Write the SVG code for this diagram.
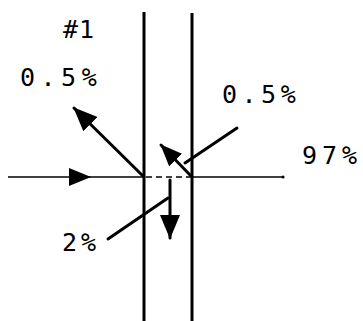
<svg xmlns="http://www.w3.org/2000/svg" width="363" height="321" viewBox="0 0 363 321">
<style>
.t{font-family:"DejaVu Sans Mono","Liberation Mono",monospace;font-size:25px;fill:#000}
.thin{stroke:#000;stroke-width:1.6;fill:none}
.thick{stroke:#000;stroke-width:3;fill:none;stroke-linecap:round}
.wall{stroke:#000;stroke-width:3;fill:none}
</style>
<defs>
<marker id="ah" viewBox="0 0 24 20" refX="23" refY="10" markerWidth="24" markerHeight="20" markerUnits="userSpaceOnUse" orient="auto"><path d="M0,0 L24,10 L0,20 z" fill="#000"/></marker>
<marker id="ahs" viewBox="0 0 22 18" refX="21" refY="9" markerWidth="22" markerHeight="18" markerUnits="userSpaceOnUse" orient="auto"><path d="M0,0 L22,9 L0,18 z" fill="#000"/></marker>
</defs>
<rect width="363" height="321" fill="#fff"/>
<g id="walls">
<line class="wall" x1="144" y1="12" x2="144" y2="321"/>
<line class="wall" x1="192" y1="13" x2="192" y2="321"/>
</g>
<g id="connectors">
<line class="thin" x1="8" y1="177" x2="90" y2="177" marker-end="url(#ahs)"/>
<line class="thin" x1="88" y1="177" x2="144" y2="177"/>
<line class="thin" x1="146" y1="177" x2="192" y2="177" stroke-dasharray="6 4"/>
<line class="thin" x1="192" y1="177" x2="283" y2="177"/>
<circle cx="283" cy="177" r="1.6" fill="#000"/>
<line class="thick" x1="144" y1="177" x2="74" y2="108" marker-end="url(#ah)"/>
<line class="thick" x1="192" y1="177" x2="161" y2="145" marker-end="url(#ahs)"/>
<line class="thick" x1="237" y1="128" x2="185" y2="163"/>
<line class="thick" x1="170" y1="180" x2="170" y2="238" marker-end="url(#ah)"/>
<line class="thick" x1="108" y1="239" x2="168" y2="198"/>
</g>
<g id="labels">
<text class="t" x="63" y="38" letter-spacing="1">#1</text>
<text class="t" x="20" y="86" letter-spacing="5.5">0.5%</text>
<text class="t" x="222" y="103" letter-spacing="4.5">0.5%</text>
<text class="t" x="302" y="164" letter-spacing="5">97%</text>
<text class="t" x="62" y="251" letter-spacing="4">2%</text>
</g>
</svg>
